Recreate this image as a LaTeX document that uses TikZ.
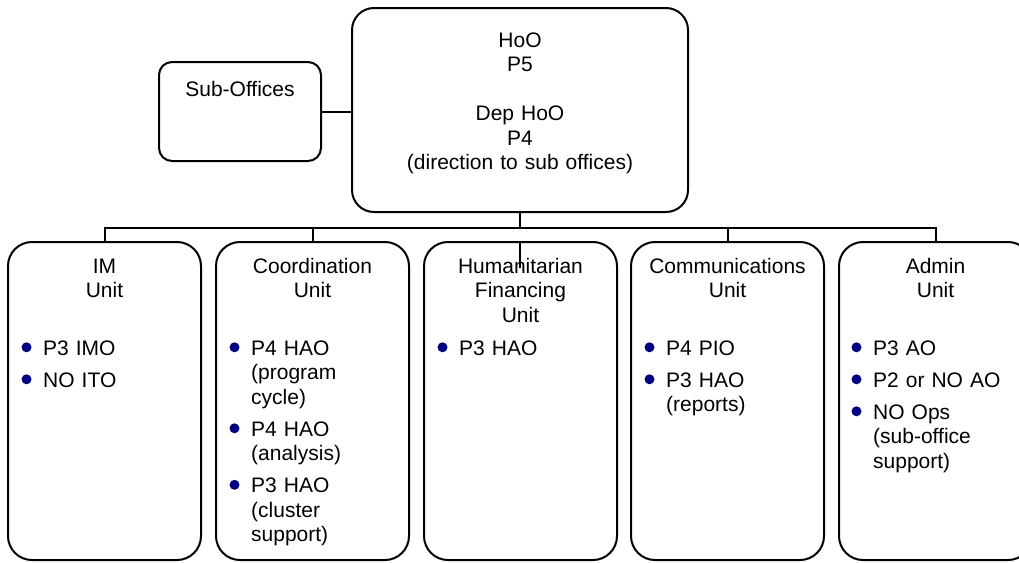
\documentclass[tikz,border=0pt]{standalone}
\usepackage{fontspec}
\setmainfont{Liberation Sans}
\usetikzlibrary{calc}
\definecolor{bulletnavy}{RGB}{0,0,128}
\begin{document}
\begin{tikzpicture}[x=1pt,y=-1pt,
  txt/.style={font=\fontsize{21}{24.5}\selectfont, inner sep=0pt},
  box/.style={draw, line width=2pt, inner sep=0pt},
  unitbox/.style={box, rounded corners=24pt, minimum width=193pt, minimum height=318pt},
  title/.style={txt, anchor=base, text width=185pt, align=center},
  item/.style={txt, anchor=base west, text width=150pt, align=left},
  link/.style={line width=2pt},
  dot/.style={fill=bulletnavy}
]
\clip (0,0) rectangle (1019,562);

% head of office and sub-offices
\node[box, rounded corners=22pt, minimum width=336pt, minimum height=204pt] (top) at (520,110) {};
\node[title, text width=330pt] (toptxt) at (520,47)
  {HoO\\P5\\\mbox{}\\Dep HoO\\P4\\(direction to sub offices)};
\node[box, rounded corners=13pt, minimum width=162pt, minimum height=99pt] (sub) at (240,111.5) {};
\node[txt, anchor=base] (subtxt) at (240,96) {Sub-Offices};
\draw[link] (sub.east) -- (sub.east -| top.west);

% unit boxes
\node[unitbox] (im) at (104.5,401) {};
\node[unitbox] (co) at (312.5,401) {};
\node[unitbox] (hf) at (520.5,401) {};
\node[unitbox] (cm) at (727.5,401) {};
\node[unitbox] (ad) at (935.5,401) {};

% connectors
\coordinate (bus) at (520,228);
\coordinate (hftick) at (520,268);
\draw[link] (top.south) -- (bus);
\draw[link] (im.north) |- (bus) -| (ad.north);
\draw[link] (co.north) -- (co.north |- bus);
\draw[link] (cm.north) -- (cm.north |- bus);
\draw[link] (hf.north -| hftick) -- (hftick);

% unit titles
\node[title] (imt) at (104.5,273) {IM\\Unit};
\node[title] (cot) at (312.5,273) {Coordination\\Unit};
\node[title] (hft) at (520.5,273) {Humanitarian\\Financing\\Unit};
\node[title] (cmt) at (727.5,273) {Communications\\Unit};
\node[title] (adt) at (935.5,273) {Admin\\Unit};

% staff lists
\node[item] (im1) at (43,355) {P3 IMO};
\node[item] (im2) at (43,387) {NO ITO};

\node[item] (co1) at (251,355) {P4 HAO\\(program\\cycle)};
\node[item] (co2) at (251,436) {P4 HAO\\(analysis)};
\node[item] (co3) at (251,492.5) {P3 HAO\\(cluster\\support)};

\node[item] (hf1) at (459,355) {P3 HAO};

\node[item] (cm1) at (666,355) {P4 PIO};
\node[item] (cm2) at (666,387) {P3 HAO\\(reports)};

\node[item] (ad1) at (873,355) {P3 AO};
\node[item] (ad2) at (873,387) {P2 or NO AO};
\node[item] (ad3) at (873,419) {NO Ops\\(sub-office\\support)};

% bullets
\foreach \n in {im1,im2,co1,co2,co3,hf1,cm1,cm2,ad1,ad2,ad3}
  \fill[dot] ($(\n.base west)+(-16.5,-7.7)$) circle (5);
\end{tikzpicture}
\end{document}
